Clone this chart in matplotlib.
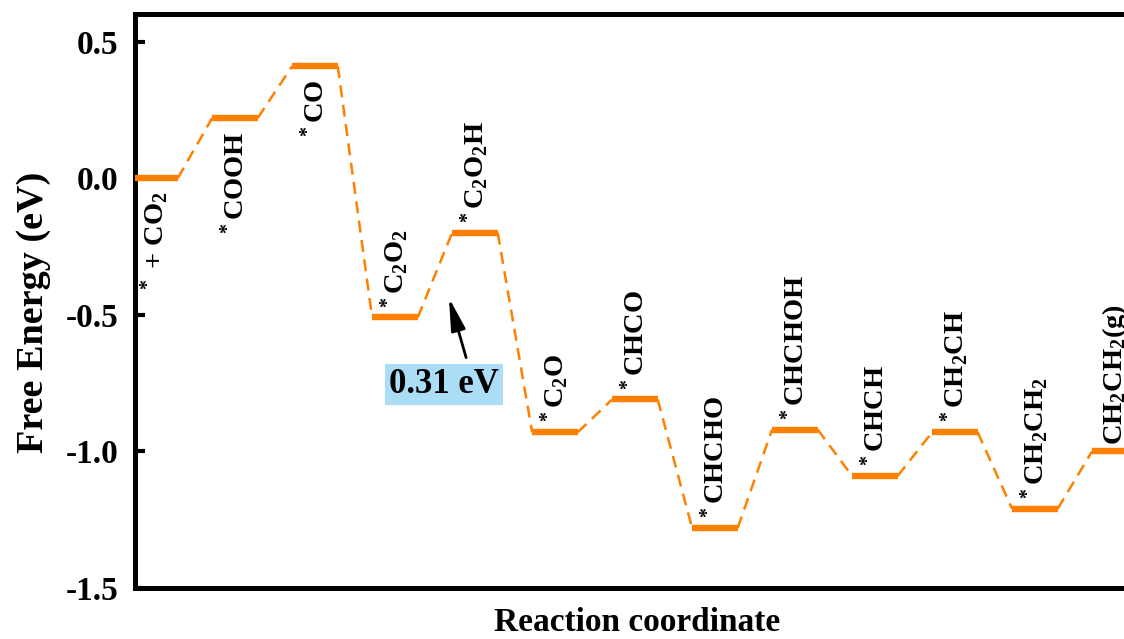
import matplotlib
matplotlib.use("Agg")
import matplotlib.pyplot as plt

# Free-energy profile of CO2 reduction to ethylene
species = [r'$^*$ + CO$_2$', r'$^*$COOH', r'$^*$CO', r'$^*$C$_2$O$_2$',
           r'$^*$C$_2$O$_2$H', r'$^*$C$_2$O', r'$^*$CHCO', r'$^*$CHCHO',
           r'$^*$CHCHOH', r'$^*$CHCH', r'$^*$CH$_2$CH', r'$^*$CH$_2$CH$_2$',
           r'CH$_2$CH$_2$(g)']
energies = [0.00, 0.22, 0.41, -0.51, -0.20, -0.93, -0.81, -1.28,
            -0.92, -1.09, -0.93, -1.21, -1.00]
y_ticks = [-1.5, -1.0, -0.5, 0.0, 0.5]
y_tick_labels = ['-1.5', '-1.0', '-0.5', '0.0', '0.5']
barrier_from, barrier_to = 3, 4  # *C2O2 -> *C2O2H step

plt.rcParams['font.family'] = ['Liberation Serif', 'DejaVu Serif']
plt.rcParams['font.weight'] = 'bold'
plt.rcParams['mathtext.fontset'] = 'custom'
plt.rcParams['mathtext.rm'] = 'Liberation Serif:bold'
plt.rcParams['mathtext.it'] = 'Liberation Serif:bold:italic'
plt.rcParams['mathtext.bf'] = 'Liberation Serif:bold'
plt.rcParams['axes.unicode_minus'] = False

ORANGE = '#FF8000'
HALF = 0.285          # half width of each energy level
N_BELOW = 3           # first levels carry their label underneath

fig = plt.figure(figsize=(11.24, 6.39), dpi=100)
ax = fig.add_axes([0.1201, 0.0798, 0.894, 0.898])

# energy levels
for i, e in enumerate(energies):
    ax.plot([i - HALF, i + HALF], [e, e], color=ORANGE, lw=4.6,
            solid_capstyle='butt', zorder=3)

# dashed connectors between consecutive levels
for i in range(len(energies) - 1):
    ax.plot([i + HALF, i + 1 - HALF], [energies[i], energies[i + 1]],
            color=ORANGE, lw=1.8, linestyle=(0, (4.8, 3.0)), zorder=2)

# species labels
for i, (name, e) in enumerate(zip(species, energies)):
    if i < N_BELOW:
        ax.text(i, e - 0.05, name, rotation=90, ha='center', va='top',
                fontsize=20.5, fontweight='bold')
    else:
        ax.text(i, e + 0.025, name, rotation=90, ha='center', va='bottom',
                fontsize=20.5, fontweight='bold')

# rate-limiting barrier annotation
barrier = energies[barrier_to] - energies[barrier_from]
ax.annotate('', xy=(3.675, -0.438), xytext=(3.89, -0.657),
            arrowprops=dict(arrowstyle='-|>,head_width=0.2,head_length=0.9',
                            color='black', lw=2.0, mutation_scale=22,
                            shrinkA=0, shrinkB=0))
ax.text(3.61, -0.756, f'{barrier:.2f} eV', ha='center', va='center',
        fontsize=25, fontweight='bold',
        bbox=dict(boxstyle='square,pad=0.12', facecolor='#ABDDF7',
                  edgecolor='none'))

ax.set_xlim(-0.25, 12.3125)
ax.set_ylim(-1.5, 0.6)
ax.set_xticks([])
ax.set_yticks(y_ticks)
ax.set_yticklabels(y_tick_labels, fontsize=24, fontweight='bold')
ax.tick_params(axis='y', direction='in', length=7, width=3, pad=12)

for sp in ax.spines.values():
    sp.set_linewidth(3.6)

ax.set_xlabel('Reaction coordinate', fontsize=24, fontweight='bold',
              labelpad=14)
ax.set_ylabel('Free Energy (eV)', fontsize=27.5, fontweight='bold')
ax.yaxis.set_label_coords(-0.084, 0.481)

fig.savefig('out.png', dpi=100)
